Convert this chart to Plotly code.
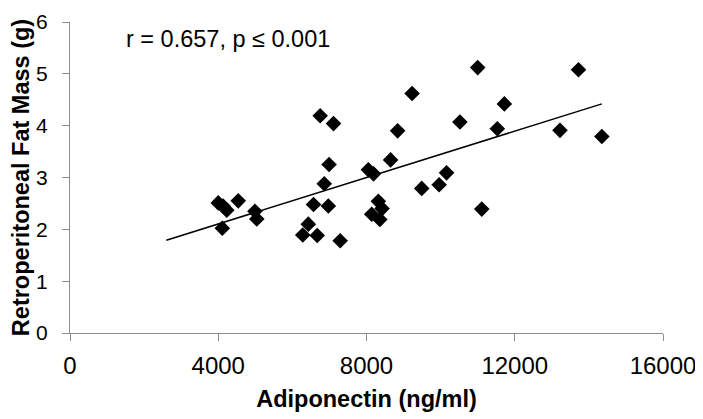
import plotly.graph_objects as go

adiponectin = [4000, 4130, 4230, 4540, 4110, 4990, 5040, 6280, 6430, 6570, 6670, 6750,
               6860, 6970, 6990, 7110, 7290, 8050, 8190, 8140, 8320, 8420, 8360, 8650,
               8840, 9230, 9490, 9960, 10160, 10520, 11000, 11110, 11530, 11720, 13220,
               13720, 14350]
fat_mass = [2.51, 2.45, 2.37, 2.55, 2.02, 2.35, 2.20, 1.89, 2.10, 2.48, 1.88, 4.19,
            2.88, 2.45, 3.25, 4.04, 1.78, 3.15, 3.07, 2.29, 2.54, 2.40, 2.19, 3.34,
            3.90, 4.62, 2.79, 2.86, 3.09, 4.07, 5.12, 2.39, 3.94, 4.42, 3.91,
            5.08, 3.79]
trend_x = [2600, 14350]
trend_y = [1.79, 4.42]
x_ticks = [0, 4000, 8000, 12000, 16000]
y_ticks = [0, 1, 2, 3, 4, 5, 6]

fig = go.Figure()
fig.add_trace(go.Scatter(x=trend_x, y=trend_y, mode="lines",
                         line=dict(color="black", width=1.5), showlegend=False))
fig.add_trace(go.Scatter(x=adiponectin, y=fat_mass, mode="markers",
                         marker=dict(symbol="diamond", size=12, color="black",
                                     line=dict(width=0)),
                         showlegend=False))

font = "Liberation Sans, Arial, sans-serif"
axis_common = dict(showgrid=False, zeroline=False, showline=True, linecolor="#8c8c8c",
                   linewidth=1.2, ticks="outside", tickcolor="#8c8c8c", ticklen=7,
                   tickwidth=1.2, automargin=False, ticklabeloverflow="allow")

fig.update_layout(
    width=703, height=419,
    margin=dict(l=62, r=48, t=14, b=94),
    paper_bgcolor="white", plot_bgcolor="white",
    xaxis=dict(range=[0, 16000], tickvals=x_ticks, ticktext=[str(v) for v in x_ticks],
               tickfont=dict(family=font, size=24, color="black"),
               ticklabelstandoff=4,
               title=dict(text="<b>Adiponectin (ng/ml)</b>",
                          font=dict(family=font, size=23.5, color="black"), standoff=12),
               **axis_common),
    yaxis=dict(range=[0, 6], tickvals=y_ticks,
               tickfont=dict(family=font, size=21, color="black"),
               title=dict(text="<b>Retroperitoneal Fat Mass (g)</b>",
                          font=dict(family=font, size=23.5, color="black"), standoff=1),
               ticklabelstandoff=10,
               **axis_common),
    annotations=[dict(text="r = 0.657, p ≤ 0.001", x=4263, y=5.68, xref="x", yref="y",
                      showarrow=False, font=dict(family=font, size=23.5, color="black"))],
)

fig.write_html("out.html")
